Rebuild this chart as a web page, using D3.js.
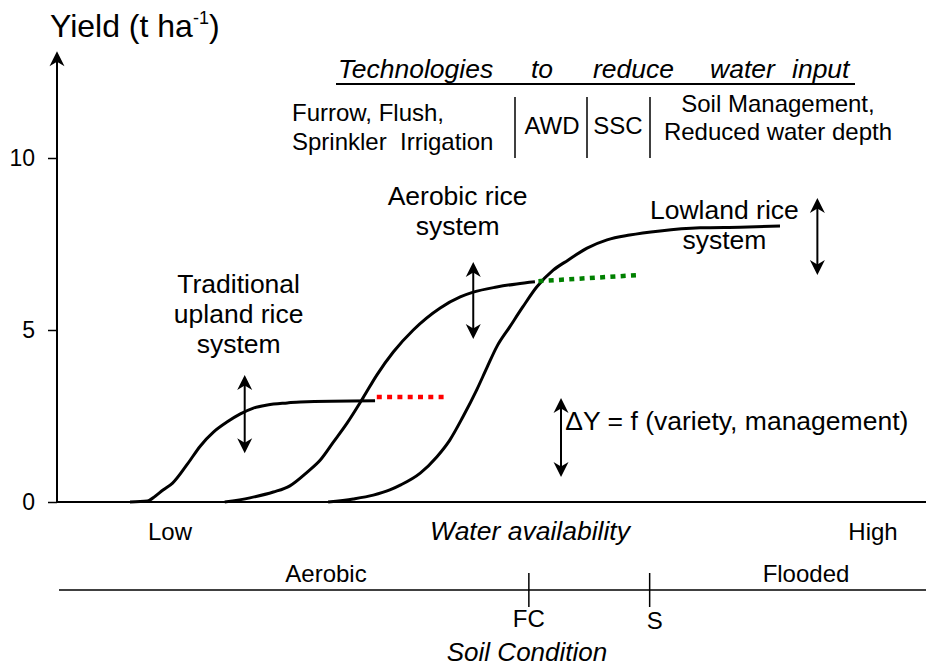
<!DOCTYPE html>
<html>
<head>
<meta charset="utf-8">
<script src="https://cdn.jsdelivr.net/npm/d3@7"></script>
<style>
  body { margin: 0; background: #fff; }
  svg { display: block; font-family: "Liberation Sans", Arial, sans-serif; }
</style>
</head>
<body>
<svg id="chart" width="926" height="669"></svg>
<script>
// water availability (relative units 0-100) -> yield (t/ha)
var uplandX = [8.4, 10.4, 11.3, 12.2, 13.3, 15.0, 16.5, 18.0, 19.6, 21.1, 22.6, 24.2, 26.5, 28.0, 36.6];
var uplandY = [0, 0.03, 0.17, 0.35, 0.55, 1.1, 1.63, 2.03, 2.33, 2.56, 2.73, 2.82, 2.88, 2.91, 2.94];

var aerobicX = [19.3, 22.2, 24.9, 26.8, 28.8, 30.3, 31.8, 33.4, 35.2, 36.8, 38.7, 41.0, 44.1, 46.4, 47.9, 50.6, 52.9, 55.0];
var aerobicY = [0, 0.12, 0.29, 0.47, 0.87, 1.22, 1.74, 2.30, 3.02, 3.69, 4.36, 5.0, 5.64, 5.96, 6.10, 6.25, 6.34, 6.40];

var lowlandX = [31.2, 34.1, 36.4, 38.3, 39.5, 41.8, 43.7, 45.2, 46.7, 48.3, 49.5, 50.6, 52.1, 53.6, 55.2, 57.1, 58.8, 61.0, 63.3, 65.9, 69.4, 74.0, 78.6, 83.2];
var lowlandY = [0, 0.09, 0.2, 0.35, 0.49, 0.84, 1.31, 1.8, 2.47, 3.26, 3.92, 4.51, 5.09, 5.67, 6.25, 6.74, 7.03, 7.38, 7.62, 7.76, 7.88, 7.97, 7.99, 8.02];

// dotted extensions (potential yield with less water)
var uplandExtX = [36.8, 44.8];
var uplandExtY = [3.05, 3.05];
var aerobicExtX = [55.4, 67.1];
var aerobicExtY = [6.42, 6.6];

// variability arrows: x, top, bottom
var arrowX = [21.6, 47.9, 87.5, 58.0];
var arrowTop = [3.69, 6.98, 8.84, 3.02];
var arrowBottom = [1.42, 4.74, 6.6, 0.73];

var yTicks = [0, 5, 10];
var soilMarks = ["FC", "S"];
var soilMarkX = [54.3, 68.2];

var systemLabels = [
  { lines: ["Traditional", "upland rice", "system"], x: 20.9, y: 6.08 },
  { lines: ["Aerobic rice", "system"], x: 46.1, y: 8.63 },
  { lines: ["Lowland rice", "system"], x: 76.8, y: 8.23 }
];

var svg = d3.select("#chart");
var x = d3.scaleLinear().domain([0, 100]).range([57, 926]);
var y = d3.scaleLinear().domain([0, 10]).range([502, 158]);

function head(px, py, dir) {
  var L = 15, W = 7.5, N = 4.5;
  return "M" + px + "," + py +
    " L" + (px - W) + "," + (py - dir * L) +
    " L" + px + "," + (py - dir * (L - N)) +
    " L" + (px + W) + "," + (py - dir * L) + " Z";
}

// y axis
var yAxis = d3.axisLeft(y).tickValues(yTicks).tickSize(9).tickPadding(13);
var ga = svg.append("g").attr("transform", "translate(57,0)").call(yAxis);
ga.select(".domain").remove();
ga.selectAll(".tick line").attr("stroke", "#000").attr("stroke-width", 1.5);
ga.selectAll(".tick text")
  .attr("fill", "#000")
  .style("font-size", "23px")
  .style("font-family", "Liberation Sans, Arial, sans-serif");

svg.append("line")
  .attr("x1", x(0)).attr("x2", x(0))
  .attr("y1", y(0) + 1).attr("y2", y(13.1) + 8)
  .attr("stroke", "#000").attr("stroke-width", 2);
svg.append("path").attr("d", head(x(0), y(13.1), -1)).attr("fill", "#000");

// x axis
svg.append("line")
  .attr("x1", x(0)).attr("x2", x(100))
  .attr("y1", y(0)).attr("y2", y(0))
  .attr("stroke", "#000").attr("stroke-width", 2.2);

var yLab = svg.append("text").attr("x", 50).attr("y", 37)
  .style("font-size", "32px");
yLab.append("tspan").text("Yield (t ha");
yLab.append("tspan").attr("dy", -13).style("font-size", "18px").text("-1");
yLab.append("tspan").attr("dy", 13).text(")");

// curves
var line = d3.line()
  .x(d => x(d[0]))
  .y(d => y(d[1]))
  .curve(d3.curveMonotoneX);

[[uplandX, uplandY], [aerobicX, aerobicY], [lowlandX, lowlandY]].forEach(function (s) {
  svg.append("path")
    .datum(d3.zip(s[0], s[1]))
    .attr("d", line)
    .attr("fill", "none")
    .attr("stroke", "#000")
    .attr("stroke-width", 3);
});

svg.append("path")
  .datum(d3.zip(uplandExtX, uplandExtY))
  .attr("d", line)
  .attr("fill", "none")
  .attr("stroke", "#ff0000")
  .attr("stroke-width", 4.5)
  .attr("stroke-dasharray", "5,5.3");

svg.append("path")
  .datum(d3.zip(aerobicExtX, aerobicExtY))
  .attr("d", d3.line().x(d => x(d[0])).y(d => y(d[1])))
  .attr("fill", "none")
  .attr("stroke", "#008000")
  .attr("stroke-width", 4.5)
  .attr("stroke-dasharray", "5,5.3");

// double-headed arrows
arrowX.forEach(function (ax, i) {
  var px = x(ax), t = y(arrowTop[i]), b = y(arrowBottom[i]);
  svg.append("line")
    .attr("x1", px).attr("x2", px)
    .attr("y1", t + 8).attr("y2", b - 8)
    .attr("stroke", "#000").attr("stroke-width", 2);
  svg.append("path").attr("d", head(px, t, -1)).attr("fill", "#000");
  svg.append("path").attr("d", head(px, b, 1)).attr("fill", "#000");
});

// system labels
systemLabels.forEach(function (l) {
  var t = svg.append("text")
    .attr("text-anchor", "middle")
    .style("font-size", "26.5px");
  l.lines.forEach(function (s, i) {
    t.append("tspan")
      .attr("x", x(l.x))
      .attr("y", y(l.y) + i * 30)
      .text(s);
  });
});

svg.append("text")
  .attr("x", x(58.5)).attr("y", y(2.09))
  .style("font-size", "26.5px")
  .text("\u0394Y = f (variety, management)");

// header: technologies
var techWords = ["Technologies", "to", "reduce", "water", "input"];
var techWordX = [338, 531, 593, 710, 792];
techWords.forEach(function (w, i) {
  svg.append("text")
    .attr("x", techWordX[i]).attr("y", 78)
    .style("font-size", "26.5px").style("font-style", "italic")
    .text(w);
});
svg.append("line")
  .attr("x1", 336).attr("x2", 855).attr("y1", 84).attr("y2", 84)
  .attr("stroke", "#000").attr("stroke-width", 2);

function txt(s, px, py, anchor, size) {
  return svg.append("text")
    .attr("x", px).attr("y", py)
    .attr("text-anchor", anchor || "start")
    .style("font-size", (size || 24) + "px")
    .text(s);
}

txt("Furrow, Flush,", 292, 121);
txt("Sprinkler  Irrigation", 292, 150).style("white-space", "pre");
txt("AWD", 552, 134, "middle");
txt("SSC", 618, 134, "middle");
txt("Soil Management,", 778, 112, "middle");
txt("Reduced water depth", 778, 140, "middle");

[515, 587, 650].forEach(function (bx) {
  svg.append("line")
    .attr("x1", bx).attr("x2", bx).attr("y1", 97).attr("y2", 158)
    .attr("stroke", "#000").attr("stroke-width", 1.5);
});

// bottom: water availability
txt("Low", 170, 540, "middle");
txt("Water availability", 530, 540, "middle", 26.5).style("font-style", "italic");
txt("High", 873, 540, "middle");

// soil condition axis
svg.append("line")
  .attr("x1", 59).attr("x2", 926).attr("y1", 590).attr("y2", 590)
  .attr("stroke", "#000").attr("stroke-width", 1.5);
soilMarks.forEach(function (m, i) {
  svg.append("line")
    .attr("x1", x(soilMarkX[i])).attr("x2", x(soilMarkX[i]))
    .attr("y1", 573).attr("y2", 607)
    .attr("stroke", "#000").attr("stroke-width", 1.5);
});
txt("Aerobic", 326, 582, "middle");
txt("Flooded", 806, 582, "middle");
txt("FC", x(soilMarkX[0]), 627, "middle");
txt("S", x(soilMarkX[1]) + 5, 629, "middle");
txt("Soil Condition", 527, 661, "middle", 26).style("font-style", "italic");
</script>
</body>
</html>
